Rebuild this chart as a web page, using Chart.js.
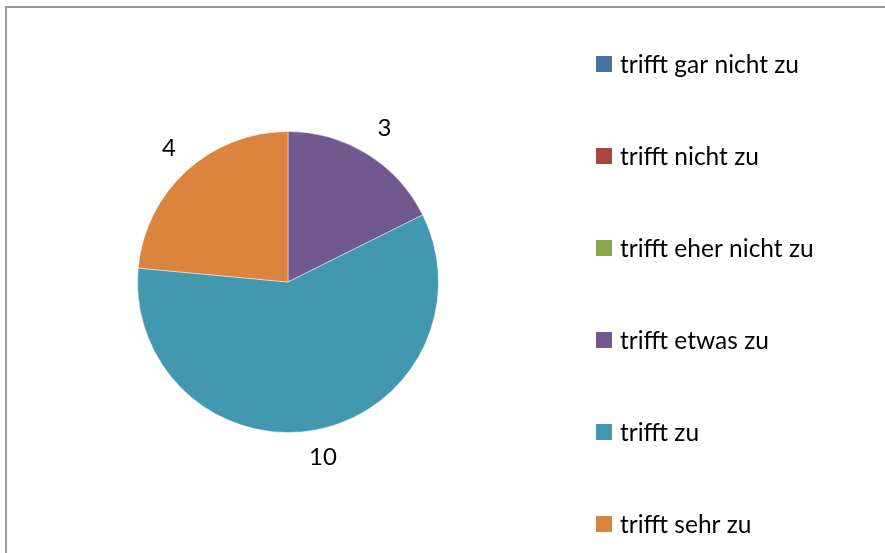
<!DOCTYPE html>
<html>
<head>
<meta charset="utf-8">
<script src="https://cdn.jsdelivr.net/npm/chart.js@4.4.0/dist/chart.umd.min.js"></script>
<style>
  html, body { margin: 0; padding: 0; background: #fff; }
  #wrap { position: relative; width: 885px; height: 553px; }
  #frame { position: absolute; left: 5px; top: 6px; right: 0; bottom: 0;
           border-top: 2px solid #9b9b9b; border-left: 2px solid #9b9b9b; }
  canvas { position: absolute; left: 0; top: 0; }
</style>
</head>
<body>
<div id="wrap">
  <div id="frame"></div>
  <canvas id="pie" width="885" height="553"></canvas>
</div>
<script>
const categories = [
  "trifft gar nicht zu",
  "trifft nicht zu",
  "trifft eher nicht zu",
  "trifft etwas zu",
  "trifft zu",
  "trifft sehr zu"
];
const counts = [0, 0, 0, 3, 10, 4];
const colors = ["#4672A8", "#A9443F", "#8BA74E", "#71588F", "#4198AF", "#DB843D"];

const FONT = "Lato, 'Open Sans', sans-serif";

// value labels outside each slice
const valueLabels = {
  id: "valueLabels",
  afterDatasetsDraw(chart) {
    const ctx = chart.ctx;
    const meta = chart.getDatasetMeta(0);
    ctx.save();
    ctx.font = "24px " + FONT;
    ctx.fillStyle = "#000";
    ctx.textAlign = "center";
    ctx.textBaseline = "middle";
    meta.data.forEach((arc, i) => {
      if (!counts[i]) return;
      const mid = (arc.startAngle + arc.endAngle) / 2;
      const r = arc.outerRadius + 29;
      ctx.fillText(String(counts[i]), arc.x + Math.cos(mid) * r + 2, arc.y + Math.sin(mid) * r - 1);
    });
    ctx.restore();
  }
};

// legend on the right, spread out like the original
const sideLegend = {
  id: "sideLegend",
  afterDraw(chart) {
    const ctx = chart.ctx;
    ctx.save();
    ctx.font = "24.5px " + FONT;
    ctx.textBaseline = "middle";
    ctx.textAlign = "left";
    categories.forEach((label, i) => {
      const y = 64 + i * 92;
      ctx.fillStyle = colors[i];
      ctx.fillRect(596, y - 8, 16, 16);
      ctx.fillStyle = "#000";
      ctx.fillText(label, 620, y + 1);
    });
    ctx.restore();
  }
};

new Chart(document.getElementById("pie"), {
  type: "pie",
  data: {
    labels: categories,
    datasets: [{
      data: counts,
      backgroundColor: colors,
      borderColor: "rgba(255,255,255,0.45)",
      borderWidth: 1
    }]
  },
  options: {
    responsive: false,
    animation: false,
    layout: { padding: { left: 137, right: 446, top: 131, bottom: 120 } },
    plugins: {
      legend: { display: false },
      tooltip: { enabled: false }
    }
  },
  plugins: [valueLabels, sideLegend]
});
</script>
</body>
</html>
